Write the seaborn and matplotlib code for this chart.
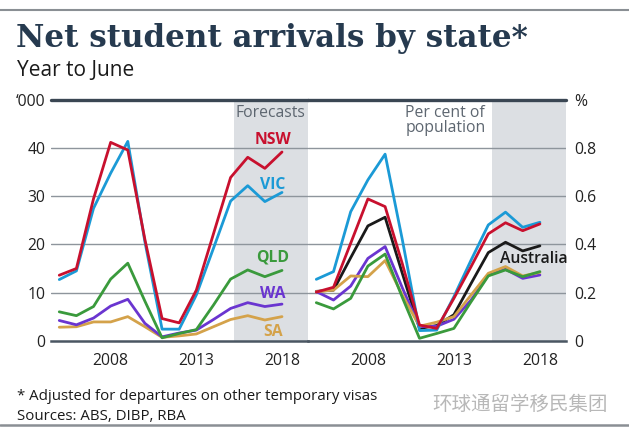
import numpy as np
import pandas as pd
import seaborn as sns
import matplotlib.pyplot as plt
from matplotlib.lines import Line2D

# data (year to June)
years = list(range(2005, 2019))

# left panel, '000 persons
nsw_k = [13.6, 15.0, 29.5, 41.2, 39.6, 21.0, 4.6, 3.7, 10.5, 22.2, 33.9, 38.1, 35.8, 39.2]
vic_k = [12.7, 14.5, 27.5, 34.8, 41.4, 20.5, 2.4, 2.4, 9.5, 19.2, 29.0, 32.2, 28.9, 30.8]
qld_k = [6.0, 5.2, 7.1, 12.8, 16.1, 8.2, 0.6, 1.5, 2.3, 7.4, 12.8, 14.7, 13.3, 14.6]
wa_k = [4.2, 3.3, 4.7, 7.2, 8.6, 3.6, 0.8, 1.6, 2.2, 4.4, 6.7, 7.9, 7.1, 7.6]
sa_k = [2.8, 2.9, 3.9, 3.9, 5.0, 2.9, 0.7, 1.0, 1.4, 2.9, 4.4, 5.2, 4.3, 5.0]

# right panel, per cent of population
nsw_pc = [0.202, 0.222, 0.405, 0.589, 0.557, 0.32, 0.065, 0.051, 0.176, 0.308, 0.444, 0.49, 0.457, 0.485]
vic_pc = [0.255, 0.287, 0.536, 0.668, 0.775, 0.42, 0.042, 0.044, 0.183, 0.335, 0.481, 0.534, 0.471, 0.492]
aus_pc = [0.205, 0.21, 0.345, 0.477, 0.513, 0.28, 0.051, 0.063, 0.108, 0.238, 0.366, 0.409, 0.373, 0.394]
wa_pc = [0.204, 0.169, 0.227, 0.342, 0.391, 0.22, 0.058, 0.06, 0.089, 0.169, 0.273, 0.297, 0.259, 0.273]
qld_pc = [0.158, 0.132, 0.176, 0.31, 0.36, 0.18, 0.01, 0.03, 0.051, 0.162, 0.269, 0.294, 0.266, 0.287]
sa_pc = [0.204, 0.21, 0.269, 0.266, 0.333, 0.19, 0.06, 0.077, 0.1, 0.19, 0.28, 0.308, 0.269, 0.284]

left_ticklabels = ['0', '10', '20', '30', '40', '\u2018000']
right_ticklabels = ['0', '0.2', '0.4', '0.6', '0.8', '%']
year_labels = [2008, 2013, 2018]
forecast_start = 2015.2

colors = {'NSW': '#c8102e', 'VIC': '#1b9ad6', 'QLD': '#3a9a3c',
          'WA': '#6a35d0', 'SA': '#d4a24a', 'Australia': '#1a1a1a'}

left_df = pd.DataFrame({'year': years, 'NSW': nsw_k, 'VIC': vic_k, 'QLD': qld_k,
                        'WA': wa_k, 'SA': sa_k}).melt('year', var_name='state')
right_df = pd.DataFrame({'year': years, 'NSW': nsw_pc, 'VIC': vic_pc, 'Australia': aus_pc,
                         'WA': wa_pc, 'QLD': qld_pc, 'SA': sa_pc}).melt('year', var_name='state')

sns.set_style('white')
plt.rcParams['font.family'] = ['Open Sans', 'DejaVu Sans']

W, H = 629, 433
fig = plt.figure(figsize=(W / 100, H / 100), dpi=100)

def fx(px):
    return px / W

def fy(py):
    return 1 - py / H

bottom, top = 340.7, 100.0
ax1 = fig.add_axes([fx(50.7), fy(bottom), fx(307.7 - 50.7), (bottom - top) / H])
ax2 = fig.add_axes([fx(307.7), fy(bottom), fx(565.7 - 307.7), (bottom - top) / H])

shade = '#dcdfe3'
grid_c = '#8e959c'
dark = '#3a4653'

for ax, ymax in [(ax1, 50), (ax2, 1.0)]:
    ax.set_xlim(2004.5, 2019.5)
    ax.set_ylim(0, ymax)
    ax.axvspan(forecast_start, 2019.5, color=shade, zorder=0, lw=0)
    for k in range(1, 5):
        ax.axhline(ymax * k / 5, color=grid_c, lw=1.0, zorder=1)
    ax.axhline(ymax, color=dark, lw=2.4, zorder=3, clip_on=False)
    for s in ['top', 'left', 'right']:
        ax.spines[s].set_visible(False)
    ax.spines['bottom'].set_color('#4a5662')
    ax.spines['bottom'].set_linewidth(1.8)
    ax.spines['bottom'].set_zorder(4)
    ax.set_xticks(year_labels)
    ax.set_xticklabels([str(y) for y in year_labels])
    ax.set_xticks(np.arange(2004.5, 2020, 1), minor=True)
    ax.tick_params(axis='x', which='major', length=0, pad=9, labelsize=11.3, labelcolor='#222222')
    ax.tick_params(axis='x', which='minor', length=6, width=1, color='#4a5662', direction='out')
    ax.patch.set_alpha(0)

sns.lineplot(data=left_df, x='year', y='value', hue='state',
             hue_order=['SA', 'WA', 'QLD', 'VIC', 'NSW'], palette=colors,
             linewidth=2.0, legend=False, ax=ax1, zorder=2)
sns.lineplot(data=right_df, x='year', y='value', hue='state',
             hue_order=['Australia', 'WA', 'SA', 'VIC', 'NSW', 'QLD'], palette=colors,
             linewidth=2.0, legend=False, ax=ax2, zorder=2)

ax1.set_yticks([0, 10, 20, 30, 40, 50])
ax1.set_yticklabels(left_ticklabels)
ax1.tick_params(axis='y', length=0, pad=4, labelsize=11.3, labelcolor='#222222')
ax2.set_yticks([0, 0.2, 0.4, 0.6, 0.8, 1.0])
ax2.set_yticklabels(right_ticklabels)
ax2.yaxis.tick_right()
ax2.tick_params(axis='y', length=0, pad=6, labelsize=11.3, labelcolor='#222222')
for ax in (ax1, ax2):
    ax.set_xlabel('')
    ax.set_ylabel('')

# labels in the panels
ax1.text(2017.35, 47.3, 'Forecasts', ha='center', va='center', fontsize=11.3, color='#5d6670')
for name, yv in [('NSW', 41.7), ('VIC', 32.4), ('QLD', 17.2), ('WA', 9.7), ('SA', 1.8)]:
    ax1.text(2017.45, yv, name, ha='center', va='center', fontsize=11.3,
             fontweight='bold', color=colors[name])
ax2.text(2012.5, 0.915, 'Per cent of\npopulation', ha='center', va='center', fontsize=11.3,
         color='#5d6670', linespacing=0.95)
ax2.text(2017.66, 0.339, 'Australia', ha='center', va='center', fontsize=11.3,
         color='#1a1a1a', fontweight='semibold')

# title block
fig.text(fx(16), fy(47), 'Net student arrivals by state*', family='DejaVu Serif',
         fontweight='bold', fontsize=22.3, color='#263a4f', va='baseline')
fig.text(fx(17), fy(75.5), 'Year to June', fontsize=15, color='#1a1a1a', va='baseline')

# footer
fig.text(fx(17), fy(400), '* Adjusted for departures on other temporary visas',
         fontsize=10.8, color='#1a1a1a', va='baseline')
fig.text(fx(17), fy(419.5), 'Sources: ABS, DIBP, RBA', fontsize=10.8, color='#1a1a1a', va='baseline')
fig.text(fx(432), fy(410), '环球通留学移民集团', family=['Noto Sans CJK SC', 'DejaVu Sans'],
         fontsize=14, color='#b8b8b8', va='baseline', fontweight='light')

fig.add_artist(Line2D([0, 1], [fy(10), fy(10)], color='#8a8f94', lw=1.5))
fig.add_artist(Line2D([0, 1], [fy(425), fy(425)], color='#8a8f94', lw=1.8))

fig.savefig('out.png', dpi=100, facecolor='white')
